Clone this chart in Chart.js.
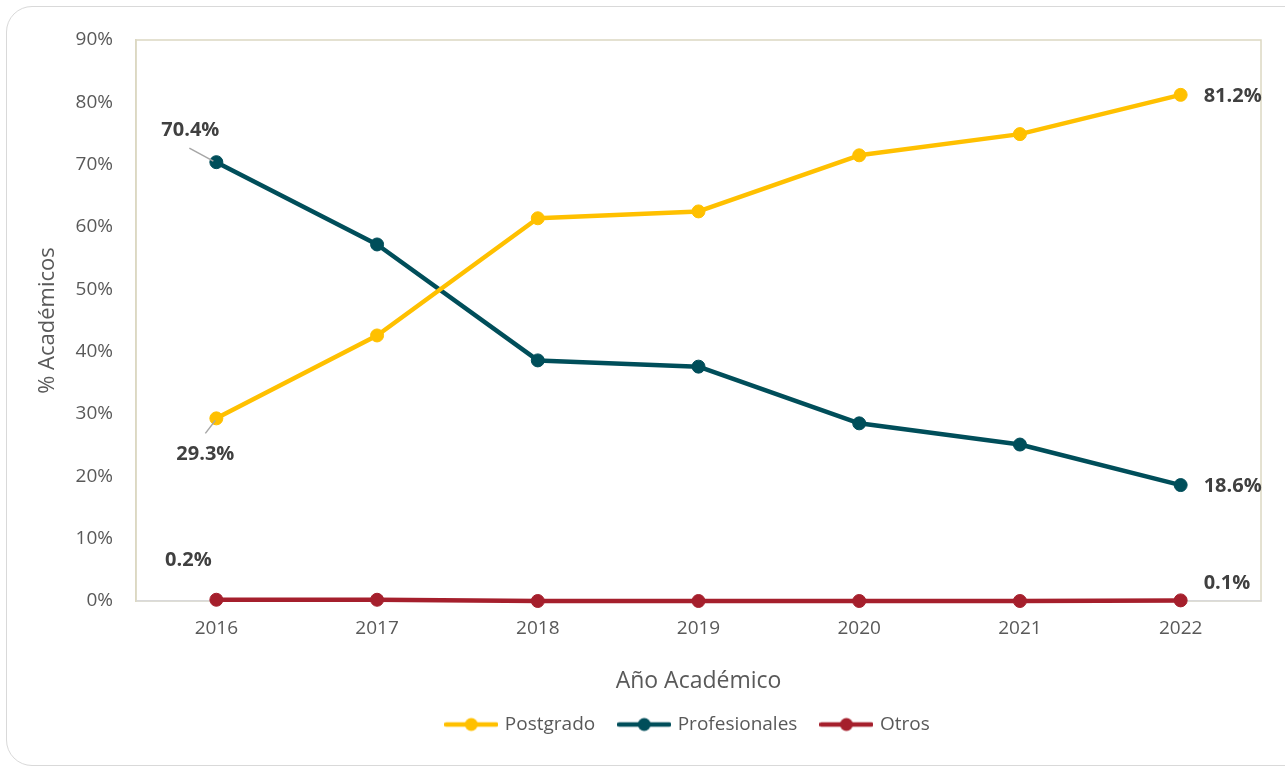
<!DOCTYPE html>
<html lang="es">
<head>
<meta charset="utf-8">
<title>% Académicos por año</title>
<script src="https://cdn.jsdelivr.net/npm/chart.js@4.4.1/dist/chart.umd.min.js"></script>
<style>
    html, body { margin: 0; padding: 0; background: #ffffff; overflow: hidden; }
    #wrap { position: relative; width: 1285px; height: 768px; }
    #card {
        position: absolute; left: 6px; top: 6px; width: 1330px; height: 760px;
        border: 1.5px solid #d9d9d9; border-radius: 26px; box-sizing: border-box;
    }
    #chart-box { position: absolute; left: 0; top: 0; width: 1285px; height: 768px; }
</style>
</head>
<body>
<div id="wrap">
    <div id="card"></div>
    <div id="chart-box"><canvas id="academicosChart"></canvas></div>
</div>

<script>
// --- Datos ---
const anios = ['2016', '2017', '2018', '2019', '2020', '2021', '2022'];
const postgrado = [29.3, 42.6, 61.4, 62.5, 71.5, 74.9, 81.2];
const profesionales = [70.4, 57.2, 38.6, 37.6, 28.5, 25.1, 18.6];
const otros = [0.2, 0.2, 0.0, 0.0, 0.0, 0.0, 0.1];
const ticksY = [0, 10, 20, 30, 40, 50, 60, 70, 80, 90];

const colores = ['#FFC000', '#004E5A', '#A51F2C'];

// Etiquetas de valor: serie, índice del punto, desplazamiento y línea guía opcional
const etiquetas = [
    { serie: 1, idx: 0, dx: -26, dy: -32, align: 'center', guia: [[-27, -14], [-3, -1]] },
    { serie: 0, idx: 0, dx: -11, dy: 36, align: 'center', guia: [[-11, 15], [-1, 2]] },
    { serie: 2, idx: 0, dx: -28, dy: -39, align: 'center' },
    { serie: 0, idx: 6, dx: 23, dy: 1, align: 'left' },
    { serie: 1, idx: 6, dx: 23, dy: 1, align: 'left' },
    { serie: 2, idx: 6, dx: 23, dy: -17, align: 'left' }
];

// Muestra de la leyenda: línea con círculo al centro
function muestraLeyenda(color) {
    const c = document.createElement('canvas');
    c.width = 54;
    c.height = 16;
    const g = c.getContext('2d');
    g.strokeStyle = color;
    g.lineWidth = 4.5;
    g.lineCap = 'round';
    g.beginPath();
    g.moveTo(2, 8);
    g.lineTo(52, 8);
    g.stroke();
    g.fillStyle = color;
    g.beginPath();
    g.arc(27, 8, 6.5, 0, Math.PI * 2);
    g.fill();
    return c;
}

// Marco del área de trazado (beige), el eje X lo cubre con gris
const marcoPlugin = {
    id: 'marcoArea',
    beforeDraw(chart) {
        const { ctx, chartArea: a } = chart;
        ctx.save();
        ctx.strokeStyle = '#dcd8c2';
        ctx.lineWidth = 1.5;
        ctx.strokeRect(a.left, a.top, a.right - a.left, a.bottom - a.top);
        ctx.restore();
    }
};

const etiquetasPlugin = {
    id: 'etiquetasValor',
    afterDatasetsDraw(chart) {
        const ctx = chart.ctx;
        ctx.save();
        etiquetas.forEach(e => {
            const pt = chart.getDatasetMeta(e.serie).data[e.idx];
            const valor = chart.data.datasets[e.serie].data[e.idx];
            if (e.guia) {
                ctx.strokeStyle = '#a6a6a6';
                ctx.lineWidth = 1.5;
                ctx.beginPath();
                ctx.moveTo(pt.x + e.guia[0][0], pt.y + e.guia[0][1]);
                ctx.lineTo(pt.x + e.guia[1][0], pt.y + e.guia[1][1]);
                ctx.stroke();
            }
            ctx.font = 'bold 20px "Open Sans"';
            ctx.fillStyle = '#404040';
            ctx.textAlign = e.align;
            ctx.textBaseline = 'middle';
            ctx.fillText(valor.toFixed(1) + '%', pt.x + e.dx, pt.y + e.dy);
        });
        ctx.restore();
    }
};

// Centra la leyenda un poco a la izquierda del área de trazado
const leyendaPlugin = {
    id: 'ajusteLeyenda',
    afterLayout(chart) {
        if (!chart.legend) return;
        chart.legend.left -= 10;
        chart.legend.right -= 10;
    }
};

function serie(label, data, color) {
    return {
        label: label,
        data: data,
        borderColor: color,
        backgroundColor: color,
        borderWidth: 4.5,
        borderJoinStyle: 'round',
        pointRadius: 6.5,
        pointBorderWidth: 1,
        pointBackgroundColor: color,
        pointBorderColor: color,
        tension: 0,
        clip: false
    };
}

document.addEventListener('DOMContentLoaded', () => {
    const ctx = document.getElementById('academicosChart').getContext('2d');
    const genDefecto = Chart.defaults.plugins.legend.labels.generateLabels;

    new Chart(ctx, {
        type: 'line',
        data: {
            labels: anios,
            datasets: [
                serie('Postgrado', postgrado, colores[0]),
                serie('Profesionales', profesionales, colores[1]),
                serie('Otros', otros, colores[2])
            ]
        },
        options: {
            responsive: true,
            maintainAspectRatio: false,
            animation: false,
            layout: { padding: { top: 40, right: 24, bottom: 24, left: 0 } },
            plugins: {
                tooltip: { enabled: false },
                legend: {
                    position: 'bottom',
                    fullSize: false,
                    labels: {
                        usePointStyle: true,
                        pointStyleWidth: 48,
                        padding: 25,
                        color: '#595959',
                        font: { family: '"Open Sans"', size: 19 },
                        generateLabels(chart) {
                            return genDefecto(chart).map((item, i) => ({
                                ...item,
                                pointStyle: muestraLeyenda(colores[i])
                            }));
                        }
                    }
                }
            },
            scales: {
                x: {
                    type: 'category',
                    offset: true,
                    afterFit(scale) { scale.height = 89; },
                    grid: { display: false, drawTicks: false },
                    border: { color: '#d9d9d9', width: 1.5 },
                    ticks: {
                        padding: 16,
                        color: '#595959',
                        font: { family: '"Open Sans"', size: 19 }
                    },
                    title: {
                        display: true,
                        text: 'Año Académico',
                        color: '#595959',
                        font: { family: '"Open Sans"', size: 23 },
                        padding: { top: 0, bottom: -5 }
                    }
                },
                y: {
                    min: 0,
                    max: 90,
                    afterFit(scale) { scale.width = 136; },
                    afterBuildTicks(scale) { scale.ticks = ticksY.map(v => ({ value: v })); },
                    grid: { display: false, drawTicks: false },
                    border: { color: '#dcd8c2', width: 1.5 },
                    ticks: {
                        padding: 23,
                        color: '#595959',
                        font: { family: '"Open Sans"', size: 19 },
                        callback: v => v + '%'
                    },
                    title: {
                        display: true,
                        text: '% Académicos',
                        color: '#595959',
                        font: { family: '"Open Sans"', size: 22 },
                        padding: { top: 35, bottom: 0 }
                    }
                }
            }
        },
        plugins: [marcoPlugin, etiquetasPlugin, leyendaPlugin]
    });
});
</script>
</body>
</html>
